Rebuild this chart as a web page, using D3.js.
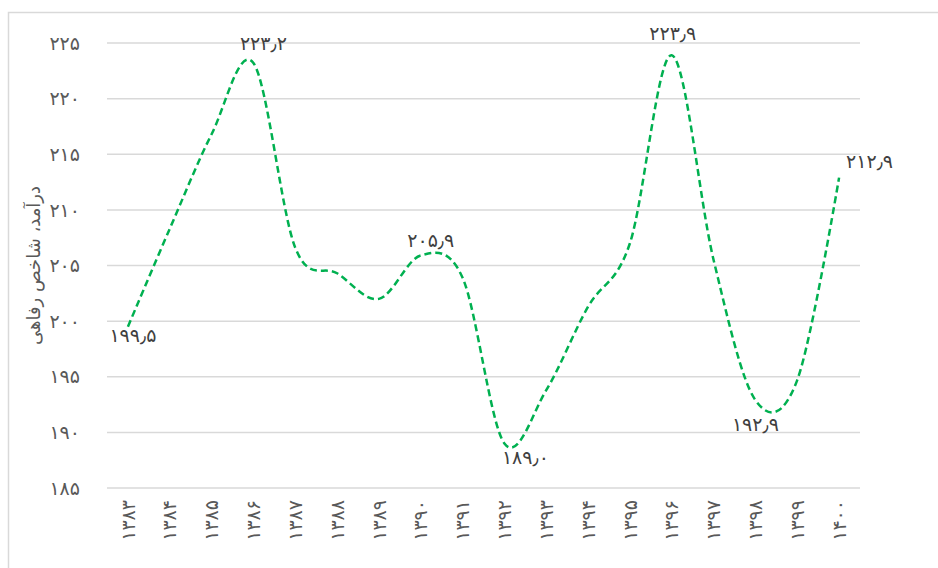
<!DOCTYPE html>
<html>
<head>
<meta charset="utf-8">
<script src="https://cdn.jsdelivr.net/npm/d3@7"></script>
<style>
  body { margin: 0; background: #fff; }
  svg text { font-family: "DejaVu Sans", "Noto Sans", sans-serif; }
</style>
</head>
<body>
<div id="chart"></div>
<script>
// categories (solar years) and values
const years = ["۱۳۸۳", "۱۳۸۴", "۱۳۸۵", "۱۳۸۶", "۱۳۸۷", "۱۳۸۸", "۱۳۸۹", "۱۳۹۰", "۱۳۹۱",
               "۱۳۹۲", "۱۳۹۳", "۱۳۹۴", "۱۳۹۵", "۱۳۹۶", "۱۳۹۷", "۱۳۹۸", "۱۳۹۹", "۱۴۰۰"];
const values = [199.5, 208.3, 216.8, 223.2, 206.6, 204.3, 202.0, 205.9, 203.9,
                189.0, 193.8, 201.3, 207.0, 223.9, 205.5, 192.9, 194.7, 212.9];
const yTicks = [185, 190, 195, 200, 205, 210, 215, 220, 225];
const yTitle = "درآمد، شاخص رفاهی";
// which points carry a value label
const labelled = ["۱۳۸۳", "۱۳۸۶", "۱۳۹۰", "۱۳۹۲", "۱۳۹۶", "۱۳۹۸", "۱۴۰۰"];

// label placement (style, not data): offsets from the point
const labelPlace = {
  "۱۳۸۳": { anchor: "middle", dx: 5, dy: 15 },
  "۱۳۸۶": { anchor: "middle", dx: 10, dy: -13 },
  "۱۳۹۰": { anchor: "middle", dx: 10, dy: -8 },
  "۱۳۹۲": { anchor: "middle", dx: 21, dy: 20 },
  "۱۳۹۶": { anchor: "middle", dx: 1, dy: -15 },
  "۱۳۹۸": { anchor: "middle", dx: 0, dy: 31 },
  "۱۴۰۰": { anchor: "start", dx: 7, dy: -10 }
};

const width = 938, height = 568;
const margin = { left: 107, right: 78, top: 43, bottom: 80 };

const svg = d3.select("#chart").append("svg")
  .attr("width", width)
  .attr("height", height);

// outer chart border
svg.append("rect")
  .attr("x", 8.5).attr("y", 12.5)
  .attr("width", 940).attr("height", 570)
  .attr("fill", "none")
  .attr("stroke", "#d9d9d9")
  .attr("stroke-width", 1.5);

const x = d3.scalePoint()
  .domain(years)
  .range([margin.left, width - margin.right])
  .padding(0.5);

const y = d3.scaleLinear()
  .domain([185, 225])
  .range([height - margin.bottom, margin.top]);

// gridlines
svg.append("g")
  .selectAll("line")
  .data(yTicks)
  .enter().append("line")
  .attr("x1", margin.left)
  .attr("x2", width - margin.right)
  .attr("y1", d => y(d))
  .attr("y2", d => y(d))
  .attr("stroke", "#d9d9d9")
  .attr("stroke-width", 1.5);

const fa = d3.formatLocale({
  decimal: "٫", thousands: "٬", grouping: [3], currency: ["", ""],
  numerals: ["۰", "۱", "۲", "۳", "۴", "۵", "۶", "۷", "۸", "۹"]
});
const fmtTick = fa.format("d");
const fmtVal = fa.format(".1f");

// y tick labels
svg.append("g")
  .selectAll("text")
  .data(yTicks)
  .enter().append("text")
  .attr("x", 80)
  .attr("y", d => y(d))
  .attr("dy", "0.35em")
  .attr("text-anchor", "end")
  .attr("font-size", 19)
  .attr("fill", "#595959")
  .text(d => fmtTick(d));

// y axis title
svg.append("text")
  .attr("transform", `translate(40,${y(205)}) rotate(-90)`)
  .attr("text-anchor", "middle")
  .attr("font-size", 18)
  .attr("fill", "#595959")
  .text(yTitle);

// x tick labels, rotated
svg.append("g")
  .selectAll("text")
  .data(years)
  .enter().append("text")
  .attr("transform", d => `translate(${x(d)},${height - margin.bottom + 12}) rotate(-90)`)
  .attr("dy", "0.35em")
  .attr("text-anchor", "end")
  .attr("font-size", 19)
  .attr("fill", "#595959")
  .text(d => d);

// smoothed dashed line
const line = d3.line()
  .x((d, i) => x(years[i]))
  .y(d => y(d))
  .curve(d3.curveCatmullRom.alpha(0));

svg.append("path")
  .datum(values)
  .attr("d", line)
  .attr("fill", "none")
  .attr("stroke", "#00b050")
  .attr("stroke-width", 2.5)
  .attr("stroke-dasharray", "7,4");

// value labels
svg.append("g")
  .selectAll("text")
  .data(labelled)
  .enter().append("text")
  .attr("x", d => x(d) + labelPlace[d].dx)
  .attr("y", d => y(values[years.indexOf(d)]) + labelPlace[d].dy)
  .attr("text-anchor", d => labelPlace[d].anchor)
  .attr("font-size", 19)
  .attr("fill", "#404040")
  .text(d => fmtVal(values[years.indexOf(d)]));
</script>
</body>
</html>
